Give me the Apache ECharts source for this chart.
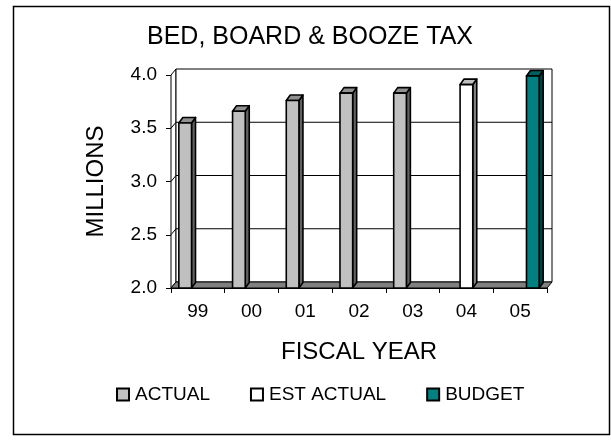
<!DOCTYPE html>
<html>
<head>
<meta charset="utf-8">
<script src="https://cdn.jsdelivr.net/npm/echarts@6/dist/echarts.min.js"></script>
<style>
  html, body { margin: 0; padding: 0; background: #fff; }
  #chart { width: 611px; height: 448px; }
</style>
</head>
<body>
<div id="chart"></div>
<script>
// Fiscal years and revenue (millions)
const categories = ['99', '00', '01', '02', '03', '04', '05'];
const actual     = [3.55, 3.66, 3.76, 3.83, 3.83, null, null];
const estActual  = [null, null, null, null, null, 3.91, null];
const budget     = [null, null, null, null, null, null, 3.99];
const yTicks     = [2.0, 2.5, 3.0, 3.5, 4.0];

const FONT = 'Arial, "Liberation Sans", sans-serif';

// depth offset of the back wall and of each bar
const WALL_DX = 5, WALL_DY = -6;
const BAR_DX = 4, BAR_DY = -5.5;

function shade(hex, k) {
  const n = parseInt(hex.slice(1), 16);
  const r = Math.round(((n >> 16) & 255) * k);
  const g = Math.round(((n >> 8) & 255) * k);
  const b = Math.round((n & 255) * k);
  return 'rgb(' + r + ',' + g + ',' + b + ')';
}

function toPoints(arr) {
  const out = [];
  arr.forEach(function (v, i) { if (v != null) out.push([i, v]); });
  return out;
}

// Back wall, left wall, floor and gridlines of the 3D box
function renderFrame(params, api) {
  const cs = params.coordSys;
  const x0 = cs.x, x1 = cs.x + cs.width;
  const yT = cs.y, yB = cs.y + cs.height;
  const dx = WALL_DX, dy = WALL_DY;
  const children = [];
  children.push({
    type: 'polygon',
    shape: { points: [[x0, yT], [x0 + dx, yT + dy], [x0 + dx, yB + dy], [x0, yB]] },
    style: { fill: '#fff', stroke: '#000', lineWidth: 1 }
  });
  children.push({
    type: 'rect',
    shape: { x: x0 + dx, y: yT + dy, width: x1 - x0, height: yB - yT },
    style: { fill: '#fff', stroke: '#000', lineWidth: 1 }
  });
  yTicks.forEach(function (v) {
    if (v === yTicks[0] || v === yTicks[yTicks.length - 1]) return;
    const y = api.coord([0, v])[1];
    children.push({
      type: 'polyline',
      shape: { points: [[x0, y], [x0 + dx, y + dy], [x1 + dx, y + dy]] },
      style: { fill: null, stroke: '#000', lineWidth: 1 }
    });
  });
  children.push({
    type: 'polygon',
    shape: { points: [[x0, yB], [x0 + dx, yB + dy], [x1 + dx, yB + dy], [x1, yB]] },
    style: { fill: '#808080', stroke: '#000', lineWidth: 1 }
  });
  return { type: 'group', children: children };
}

// A 3D column: front face, right side face and top face
function makeBarRenderer(slot, color) {
  return function (params, api) {
    const cat = api.value(0), val = api.value(1);
    const catW = api.size([1, 0])[0];
    const top = api.coord([cat, val]);
    const base = api.coord([cat, yTicks[0]]);
    const w = catW * 0.236;
    const left = top[0] - catW / 2 + catW * 0.146 + slot * w;
    const yT = top[1], yB = base[1];
    const sty = { stroke: '#000', lineWidth: 1.6, lineJoin: 'round' };
    return {
      type: 'group',
      children: [
        {
          type: 'polygon',
          shape: { points: [[left + w, yT], [left + w + BAR_DX, yT + BAR_DY], [left + w + BAR_DX, yB + BAR_DY], [left + w, yB]] },
          style: Object.assign({ fill: shade(color, 0.5) }, sty)
        },
        {
          type: 'polygon',
          shape: { points: [[left, yT], [left + BAR_DX, yT + BAR_DY], [left + w + BAR_DX, yT + BAR_DY], [left + w, yT]] },
          style: Object.assign({ fill: shade(color, 0.75) }, sty)
        },
        {
          type: 'rect',
          shape: { x: left, y: yT, width: w, height: yB - yT },
          style: Object.assign({ fill: color }, sty)
        }
      ]
    };
  };
}

const seriesDefs = [
  { name: 'ACTUAL', data: actual, color: '#C0C0C0' },
  { name: 'EST ACTUAL', data: estActual, color: '#FFFFFF' },
  { name: 'BUDGET', data: budget, color: '#008080' }
];

const chart = echarts.init(document.getElementById('chart'), null, { renderer: 'canvas' });

const series = [{
  type: 'custom',
  name: 'frame',
  silent: true,
  z: 1,
  data: [[0, yTicks[0]]],
  renderItem: renderFrame
}];
seriesDefs.forEach(function (s, i) {
  series.push({
    type: 'custom',
    name: s.name,
    z: 3,
    itemStyle: { color: s.color },
    encode: { x: 0, y: 1 },
    data: toPoints(s.data),
    renderItem: makeBarRenderer(i, s.color)
  });
});

chart.setOption({
  animation: false,
  backgroundColor: '#fff',
  textStyle: { fontFamily: FONT, color: '#000' },
  title: {
    text: 'BED, BOARD & BOOZE TAX',
    left: 147,
    top: 25,
    padding: 0,
    textStyle: { fontFamily: FONT, fontSize: 25, fontWeight: 'normal', color: '#000' }
  },
  legend: {
    left: 116,
    top: 385,
    padding: 0,
    itemWidth: 12,
    itemHeight: 12,
    itemGap: 40,
    icon: 'rect',
    selectedMode: false,
    data: seriesDefs.map(function (s) { return s.name; }),
    itemStyle: { borderColor: '#000', borderWidth: 2 },
    textStyle: { fontFamily: FONT, fontSize: 19, color: '#000', padding: [0, 0, 0, 1] }
  },
  grid: { left: 171, right: 64, top: 75, bottom: 160 },
  xAxis: {
    type: 'category',
    data: categories,
    boundaryGap: true,
    name: 'FISCAL YEAR',
    nameLocation: 'middle',
    nameGap: 52,
    nameTextStyle: { fontFamily: FONT, fontSize: 24, color: '#000' },
    axisLine: { lineStyle: { color: '#000', width: 1 } },
    axisTick: { show: true, length: 5, lineStyle: { color: '#000' } },
    axisLabel: { fontFamily: FONT, fontSize: 19, color: '#000', margin: 14 },
    splitLine: { show: false }
  },
  yAxis: {
    type: 'value',
    min: 2,
    max: 4,
    interval: 0.5,
    name: 'MILLIONS',
    nameLocation: 'middle',
    nameRotate: 90,
    nameGap: 63,
    nameTextStyle: { fontFamily: FONT, fontSize: 24, color: '#000' },
    axisLine: { show: true, lineStyle: { color: '#000', width: 1 } },
    axisTick: { show: true, length: 5, lineStyle: { color: '#000' } },
    axisLabel: {
      fontFamily: FONT, fontSize: 19, color: '#000', margin: 14,
      formatter: function (v) { return v.toFixed(1); }
    },
    splitLine: { show: false }
  },
  graphic: [{
    type: 'rect',
    silent: true,
    z: 0,
    shape: { x: 13.5, y: 6.5, width: 596, height: 428 },
    style: { fill: null, stroke: '#000', lineWidth: 1.5 }
  }],
  series: series
});
</script>
</body>
</html>
